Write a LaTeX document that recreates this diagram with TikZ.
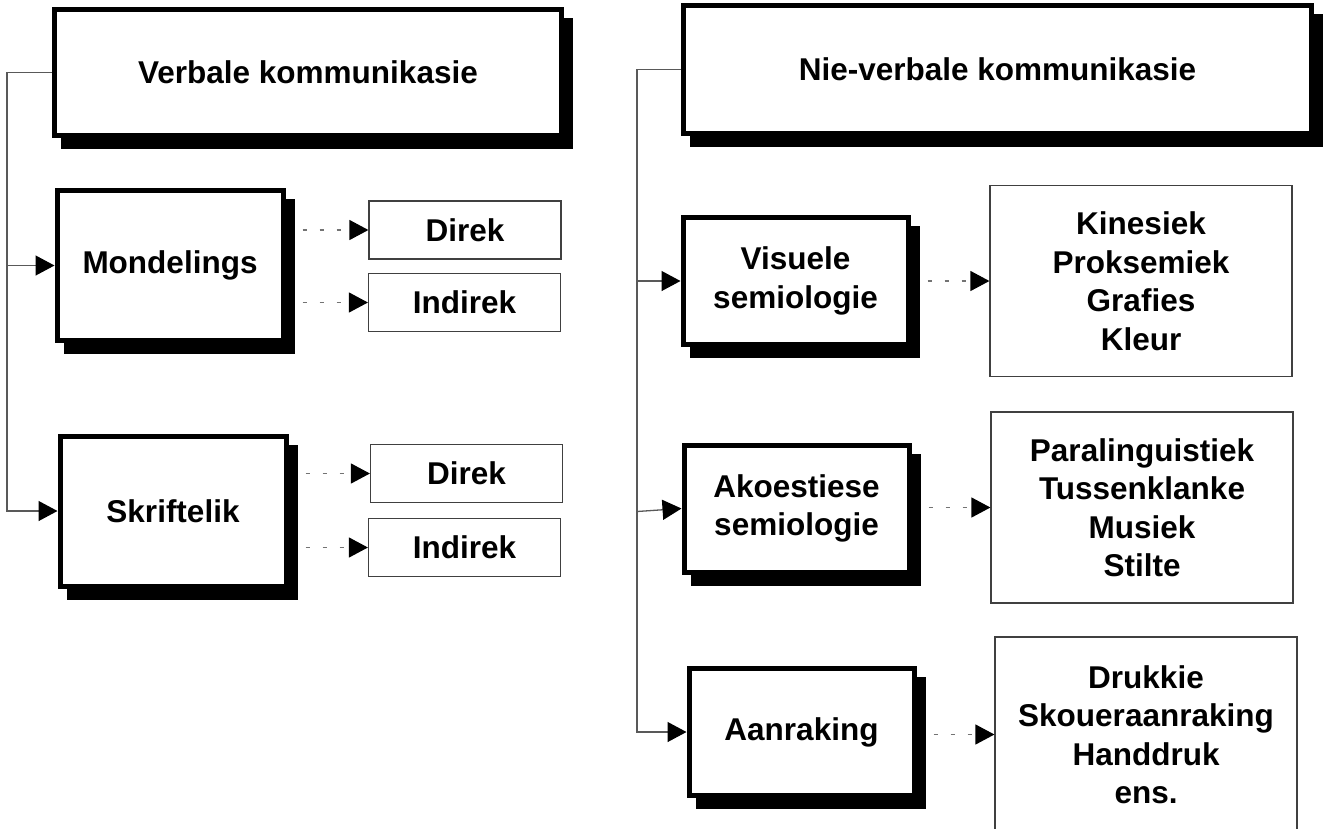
\documentclass[tikz,border=0pt]{standalone}
\usepackage{fontspec}
\setmainfont{Liberation Sans}
\usetikzlibrary{arrows.meta, shadows}

\begin{document}
\begin{tikzpicture}[
    x=1pt, y=-1pt,
    >={Triangle[length=19pt, width=20pt, black]},
    every node/.style={font=\fontsize{31.5}{38.5}\selectfont\bfseries},
    mainbox/.style={
        draw, line width=5pt, fill=white, align=center, inner sep=0pt,
        drop shadow={shadow xshift=9pt, shadow yshift=-11pt,
            opacity=1, fill=black, draw=black, line width=5pt}
    },
    kindbox/.style={mainbox, minimum width=226pt, minimum height=150pt},
    sembox/.style={mainbox, minimum width=225pt, minimum height=127pt},
    optbox/.style={
        draw=black!75, line width=1.2pt, fill=white, inner sep=0pt,
        minimum width=192pt, minimum height=58pt
    },
    listbox/.style={
        draw=black!75, line width=1.2pt, fill=white, inner sep=0pt,
        align=center, minimum width=302pt, minimum height=191pt
    },
    conn/.style={->, draw=black!65, line width=1.3pt},
    dasharrow/.style={->, draw=black!55, line width=1.2pt,
        dash pattern=on 4pt off 13pt, shorten <=17pt},
]
\useasboundingbox (0,0) rectangle (1324,828);
\clip (0,0) rectangle (1324,828);

% --- Headings ---
\node[mainbox, minimum width=507pt, minimum height=126pt] (verb) at (308,72.5) {Verbale kommunikasie};
\node[mainbox, minimum width=628pt, minimum height=128pt] (niev) at (997.5,69.5) {Nie-verbale kommunikasie};

% --- Verbale kommunikasie ---
\node[kindbox] (mond) at (170,265.5) {Mondelings};
\node[kindbox] (skrif) at (173,511) {Skriftelik};
\node[optbox] (mdir) at (465,230) {Direk};
\node[optbox] (mind) at (464.5,302.5) {Indirek};
\node[optbox] (sdir) at (466.5,473.5) {Direk};
\node[optbox] (sind) at (464.5,547.5) {Indirek};

% --- Nie-verbale kommunikasie ---
\node[sembox] (vis) at (795.5,281) {Visuele\\semiologie};
\node[sembox] (akoe) at (796.5,508.5) {Akoestiese\\semiologie};
\node[sembox] (aanr) at (801.5,732) {Aanraking};
\node[listbox] (kin) at (1141,281) {Kinesiek\\Proksemiek\\Grafies\\Kleur};
\node[listbox] (para) at (1142,507.5) {Paralinguistiek\\Tussenklanke\\Musiek\\Stilte};
\node[listbox, minimum height=195pt] (druk) at (1146,734.5) {Drukkie\\Skoueraanraking\\Handdruk\\ens.};

% --- Connectors ---
\coordinate (ltrunk) at (7,0);
\coordinate (rtrunk) at (637,0);
\coordinate (akin) at ([yshift=-3pt]akoe.west);
\draw[conn] (verb.west) -- (verb.west -| ltrunk) |- (skrif.west);
\draw[conn] (verb.west -| ltrunk) |- (mond.west);
\draw[conn] (niev.west) -- (niev.west -| rtrunk) |- (aanr.west);
\draw[conn] (niev.west -| rtrunk) |- (vis.west);
\draw[conn] (akin -| rtrunk) -- (akoe.west);

\draw[dasharrow] (mond.east |- mdir.west) -- (mdir.west);
\draw[dasharrow] (mond.east |- mind.west) -- (mind.west);
\draw[dasharrow] (skrif.east |- sdir.west) -- (sdir.west);
\draw[dasharrow] (skrif.east |- sind.west) -- (sind.west);
\draw[dasharrow] (vis.east |- kin.west) -- (kin.west);
\draw[dasharrow] (akoe.east |- para.west) -- (para.west);
\draw[dasharrow] (aanr.east |- druk.west) -- (druk.west);

\end{tikzpicture}
\end{document}
